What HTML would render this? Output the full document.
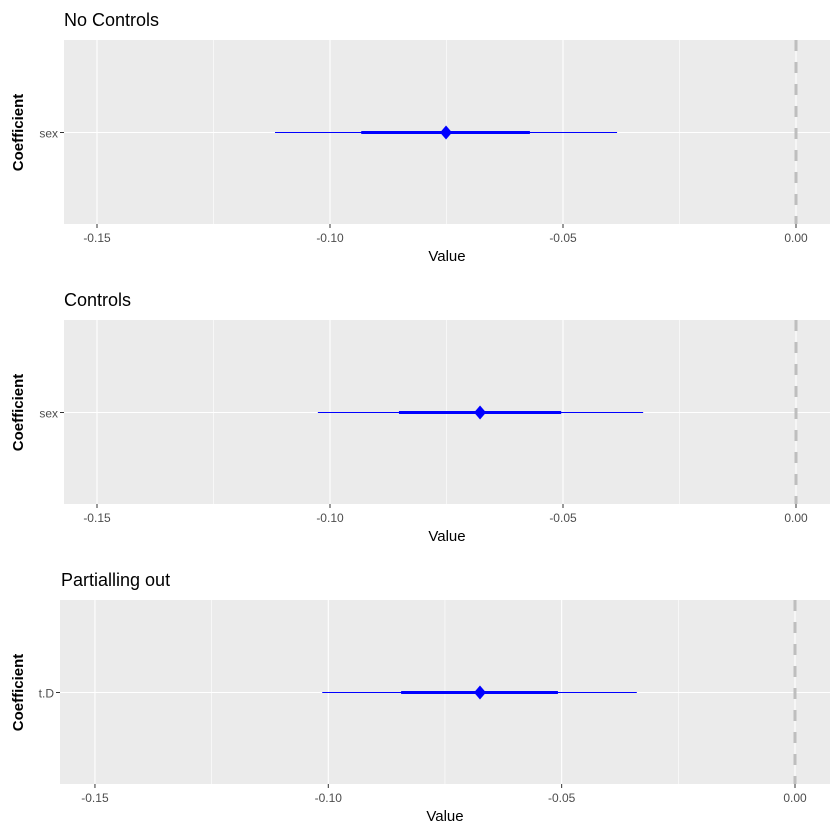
<!DOCTYPE html>
<html><head><meta charset="utf-8"><style>
html,body{margin:0;padding:0;background:#fff}
svg{display:block;font-family:"Liberation Sans",Arial,sans-serif}
</style></head><body>
<svg id="chart" width="840" height="840"></svg>
<script>
const panelTitles = ["No Controls", "Controls", "Partialling out"];
const coefNames = ["sex", "sex", "t.D"];
const estimates = [-0.0751, -0.0678, -0.0675];
const innerLow = [-0.0933, -0.0852, -0.0844];
const innerHigh = [-0.0571, -0.0504, -0.0508];
const outerLow = [-0.1118, -0.1026, -0.1013];
const outerHigh = [-0.0384, -0.0328, -0.0339];
const tickValues = [-0.15, -0.10, -0.05, 0.00];
const tickLabels = ["-0.15", "-0.10", "-0.05", "0.00"];

const NS = "http://www.w3.org/2000/svg";
const svg = document.getElementById("chart");
function mk(tag, attrs, parent) {
  const e = document.createElementNS(NS, tag);
  for (const k in attrs) e.setAttribute(k, attrs[k]);
  (parent || svg).appendChild(e);
  return e;
}
const layouts = [
  {left: 64, right: 830, top: 40, bottom: 224, zero: 796, ppu: 4660, titleX: 64},
  {left: 64, right: 830, top: 320, bottom: 504, zero: 796, ppu: 4660, titleX: 64},
  {left: 60, right: 830, top: 600, bottom: 784, zero: 795, ppu: 4667, titleX: 61}
];
layouts.forEach((L, i) => {
  const g = mk("g", {});
  
  
  const x = v => L.zero + v * L.ppu;
  const bg = mk("rect", {x: L.left, y: L.top, width: L.right - L.left, height: L.bottom - L.top, fill: "#ebebeb"}, g);
  
  
  for (let v = -0.175; v <= 0.01; v += 0.05) {
    const px = x(v);
    if (px > L.left && px < L.right) mk("line", {x1: px, x2: px, y1: L.top, y2: L.bottom, stroke: "#fff", "stroke-width": 0.6}, g);
  }
  tickValues.forEach((v, j) => {
    const px = x(v);
    const gl = mk("line", {x1: px, x2: px, y1: L.top, y2: L.bottom, stroke: "#fff", "stroke-width": 1.1}, g);
    
    
    mk("line", {x1: px, x2: px, y1: L.bottom, y2: L.bottom + 4, stroke: "#333", "stroke-width": 1}, g);
    const t = mk("text", {x: px, y: L.bottom + 18, "text-anchor": "middle", "font-size": 12, fill: "#4d4d4d"}, g);
    t.textContent = tickLabels[j];
    
    
  });
  const cy = (L.top + L.bottom) / 2 + 0.5;
  mk("line", {x1: L.left, x2: L.right, y1: cy, y2: cy, stroke: "#fff", "stroke-width": 1.1}, g);
  mk("line", {x1: L.left - 4, x2: L.left, y1: cy, y2: cy, stroke: "#333", "stroke-width": 1}, g);
  const yl = mk("text", {x: L.left - 6, y: cy + 5, "text-anchor": "end", "font-size": 12, fill: "#4d4d4d"}, g);
  yl.textContent = coefNames[i];
  
  
  const zl = mk("line", {x1: x(0), x2: x(0), y1: L.top, y2: L.bottom, stroke: "#bebebe", "stroke-width": 3, "stroke-dasharray": "11,11"}, g);
  
  
  const ol = mk("line", {x1: x(outerLow[i]), x2: x(outerHigh[i]), y1: cy, y2: cy, stroke: "#0000ff", "stroke-width": 1}, g);
  
  
  const il = mk("line", {x1: x(innerLow[i]), x2: x(innerHigh[i]), y1: cy, y2: cy, stroke: "#0000ff", "stroke-width": 3}, g);
  
  
  const ex = x(estimates[i]);
  const pt = mk("polygon", {points: `${ex},${cy-7} ${ex+6},${cy} ${ex},${cy+7} ${ex-6},${cy}`, fill: "#0000ff"}, g);
  
  
  const tt = mk("text", {x: L.titleX, y: L.top - 14, "font-size": 18, fill: "#000"}, g);
  tt.textContent = panelTitles[i];
  
  
  const xt = mk("text", {x: (L.left + L.right) / 2, y: L.bottom + 37, "text-anchor": "middle", "font-size": 15, fill: "#000"}, g);
  xt.textContent = "Value";
  
  
  const yt = mk("text", {x: 23, y: cy, "text-anchor": "middle", "font-size": 15, "font-weight": "bold", fill: "#000", transform: `rotate(-90 23 ${cy})`}, g);
  yt.textContent = "Coefficient";
  
  
});
</script>
</body></html>
